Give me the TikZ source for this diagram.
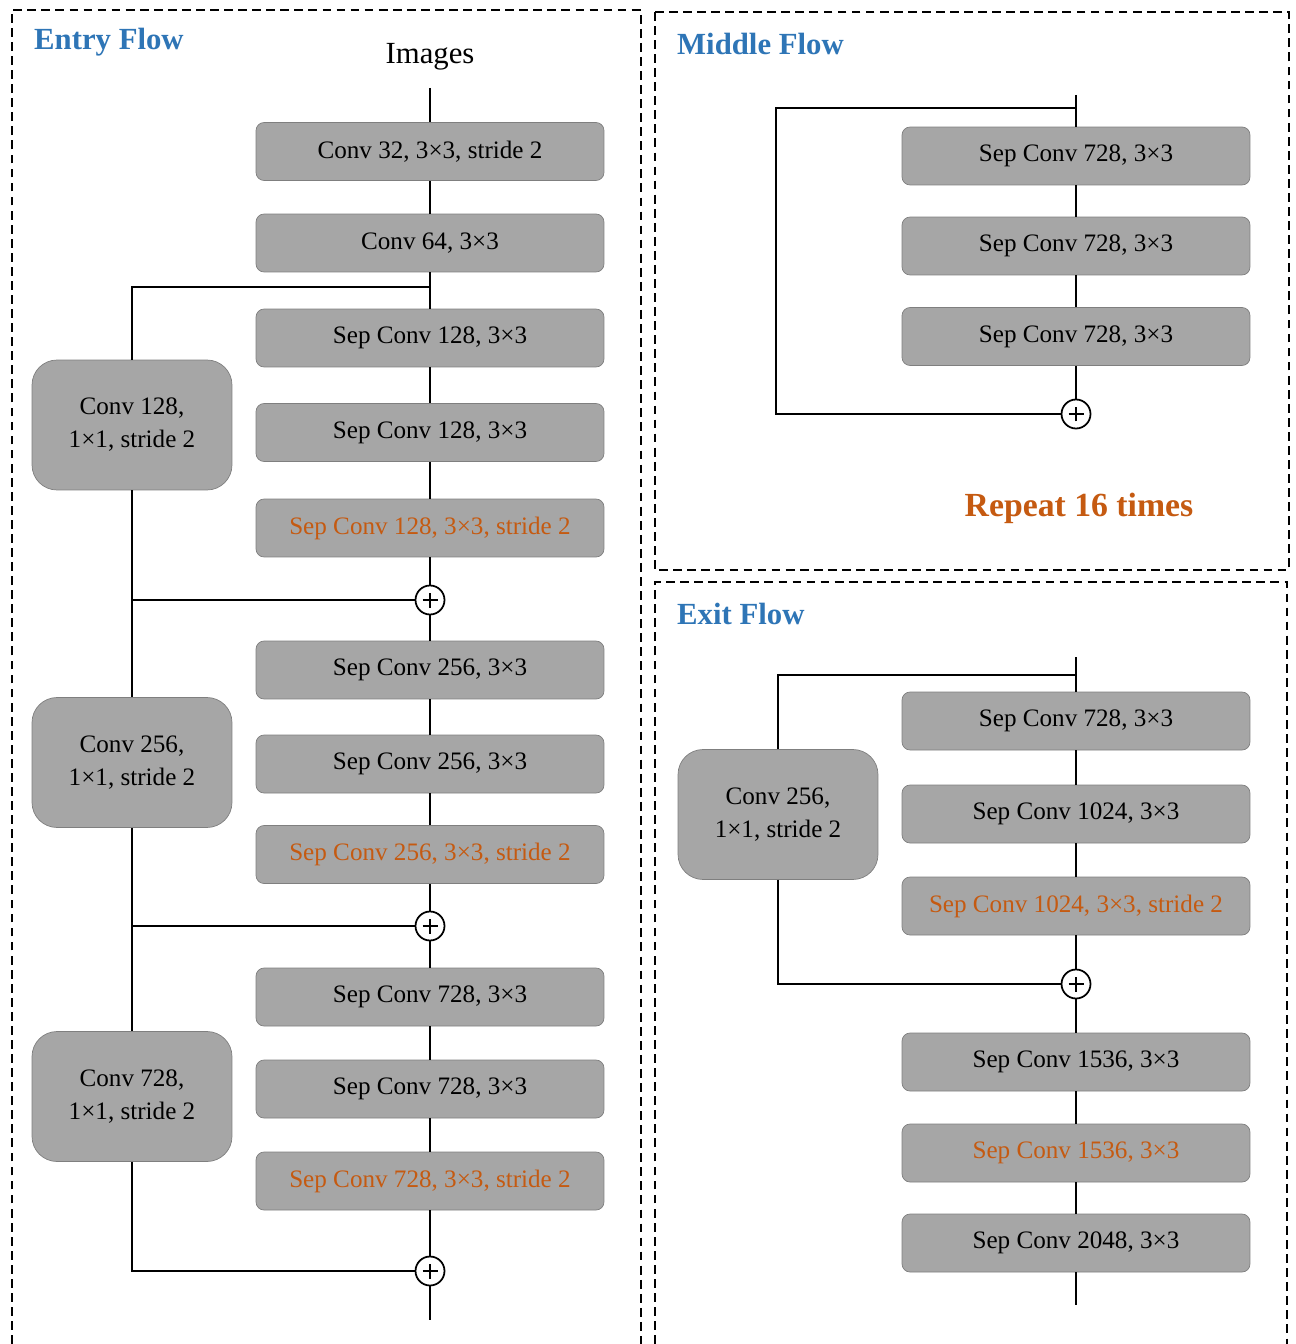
\documentclass[tikz,border=0pt]{standalone}
\usepackage{fontspec}
\setmainfont{Liberation Serif}
\usetikzlibrary{positioning, calc}

\definecolor{boxgray}{HTML}{A6A6A6}
\definecolor{edgegray}{HTML}{7F7F7F}
\definecolor{flowblue}{HTML}{2E75B6}
\definecolor{strideorange}{HTML}{C55A11}

\tikzset{
    block/.style={draw=edgegray, fill=boxgray, rounded corners=0.16cm, minimum width=6.96cm, minimum height=1.16cm, font=\fontsize{14.3}{17}\selectfont},
    sidebox/.style={draw=edgegray, fill=boxgray, rounded corners=0.5cm, minimum width=4cm, minimum height=2.6cm, align=center, font=\fontsize{14.3}{18.7}\selectfont},
    orangetxt/.style={text=strideorange},
    addnode/.style={draw, circle, fill=white, minimum size=0.58cm, inner sep=0pt, line width=1pt,
        path picture={\draw[line width=1pt] ([xshift=-0.15cm]path picture bounding box.center) -- ([xshift=0.15cm]path picture bounding box.center);
                      \draw[line width=1pt] ([yshift=-0.15cm]path picture bounding box.center) -- ([yshift=0.15cm]path picture bounding box.center);}},
    flowtitle/.style={anchor=west, text=flowblue, font=\fontsize{17.5}{20}\selectfont\bfseries},
    panel/.style={dashed, dash pattern=on 5pt off 3pt, line width=0.7pt},
    link/.style={line width=1.2pt}
}

\begin{document}
\begin{tikzpicture}[x=0.02cm, y=-0.02cm]
    \useasboundingbox (0,0) rectangle (1295,1344);

    % Panels
    \draw[panel] (12,1344) -- (12,10) -- (641,10) -- (641,1344);
    \draw[panel] (655,12) rectangle (1289,570);
    \draw[panel] (655,1344) -- (655,582) -- (1287,582) -- (1287,1344);

    % Entry flow
    \node[flowtitle] (tentry) at (28,42) {Entry Flow};
    \node[font=\fontsize{17.5}{20}\selectfont] (img) at (430,57) {Images};
    \coordinate (in1) at (430,88);

    \node[block] (e1) at (430,151.5) {Conv 32, 3×3, stride 2};
    \node[block] (e2) at (430,243) {Conv 64, 3×3};
    \node[block] (e3) at (430,338) {Sep Conv 128, 3×3};
    \node[block] (e4) at (430,432.5) {Sep Conv 128, 3×3};
    \node[block, orangetxt] (e5) at (430,528) {Sep Conv 128, 3×3, stride 2};
    \node[addnode] (ea1) at (430,600) {};
    \node[block] (e6) at (430,670) {Sep Conv 256, 3×3};
    \node[block] (e7) at (430,764) {Sep Conv 256, 3×3};
    \node[block, orangetxt] (e8) at (430,854.5) {Sep Conv 256, 3×3, stride 2};
    \node[addnode] (ea2) at (430,926) {};
    \node[block] (e9) at (430,997) {Sep Conv 728, 3×3};
    \node[block] (e10) at (430,1089) {Sep Conv 728, 3×3};
    \node[block, orangetxt] (e11) at (430,1181) {Sep Conv 728, 3×3, stride 2};
    \node[addnode] (ea3) at (430,1271) {};
    \coordinate (out1) at (430,1320);

    \node[sidebox] (es1) at (132,425) {Conv 128,\\1×1, stride 2};
    \node[sidebox] (es2) at (132,762.5) {Conv 256,\\1×1, stride 2};
    \node[sidebox] (es3) at (132,1096.5) {Conv 728,\\1×1, stride 2};

    \coordinate (esp1) at (430,287);
    \coordinate (ej1) at (132,600);
    \coordinate (ej2) at (132,926);

    \draw[link] (in1) -- (e1);
    \draw[link] (e1) -- (e2);
    \draw[link] (e2) -- (e3);
    \draw[link] (e3) -- (e4);
    \draw[link] (e4) -- (e5);
    \draw[link] (e5) -- (ea1);
    \draw[link] (ea1) -- (e6);
    \draw[link] (e6) -- (e7);
    \draw[link] (e7) -- (e8);
    \draw[link] (e8) -- (ea2);
    \draw[link] (ea2) -- (e9);
    \draw[link] (e9) -- (e10);
    \draw[link] (e10) -- (e11);
    \draw[link] (e11) -- (ea3);
    \draw[link] (ea3) -- (out1);

    \draw[link] (esp1) -| (es1);
    \draw[link] (es1) -- (es2);
    \draw[link] (ej1) -- (ea1);
    \draw[link] (es2) -- (es3);
    \draw[link] (ej2) -- (ea2);
    \draw[link] (es3) |- (ea3);

    % Middle flow
    \node[flowtitle] (tmiddle) at (671,44) {Middle Flow};
    \coordinate (in2) at (1076,95);
    \coordinate (msp) at (1076,108);
    \node[block] (m1) at (1076,156) {Sep Conv 728, 3×3};
    \node[block] (m2) at (1076,246) {Sep Conv 728, 3×3};
    \node[block] (m3) at (1076,336.5) {Sep Conv 728, 3×3};
    \node[addnode] (ma) at (1076,414) {};
    \coordinate (mc) at (776,108);
    \node[text=strideorange, font=\fontsize{19.2}{22}\selectfont\bfseries] (rep) at (1079,508) {Repeat 16 times};

    \draw[link] (in2) -- (m1);
    \draw[link] (m1) -- (m2);
    \draw[link] (m2) -- (m3);
    \draw[link] (m3) -- (ma);
    \draw[link] (msp) -- (mc) |- (ma);

    % Exit flow
    \node[flowtitle] (texit) at (671,614) {Exit Flow};
    \coordinate (in3) at (1076,657);
    \coordinate (xsp) at (1076,675);
    \node[block] (x1) at (1076,721) {Sep Conv 728, 3×3};
    \node[block] (x2) at (1076,814) {Sep Conv 1024, 3×3};
    \node[block, orangetxt] (x3) at (1076,906) {Sep Conv 1024, 3×3, stride 2};
    \node[addnode] (xa) at (1076,984) {};
    \node[block] (x4) at (1076,1062) {Sep Conv 1536, 3×3};
    \node[block, orangetxt] (x5) at (1076,1153) {Sep Conv 1536, 3×3};
    \node[block] (x6) at (1076,1243) {Sep Conv 2048, 3×3};
    \coordinate (out3) at (1076,1305);
    \node[sidebox] (xs) at (778,814.5) {Conv 256,\\1×1, stride 2};

    \draw[link] (in3) -- (x1);
    \draw[link] (x1) -- (x2);
    \draw[link] (x2) -- (x3);
    \draw[link] (x3) -- (xa);
    \draw[link] (xa) -- (x4);
    \draw[link] (x4) -- (x5);
    \draw[link] (x5) -- (x6);
    \draw[link] (x6) -- (out3);
    \draw[link] (xsp) -| (xs);
    \draw[link] (xs) |- (xa);
\end{tikzpicture}
\end{document}
